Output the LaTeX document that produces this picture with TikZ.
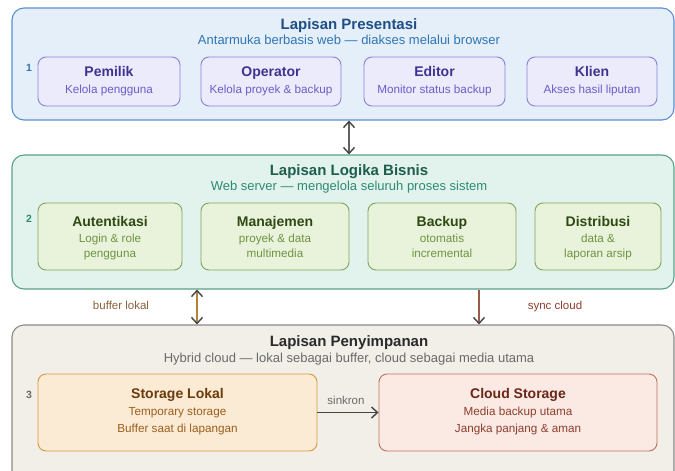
\documentclass[tikz,border=0pt]{standalone}
\usepackage{fontspec}
\setmainfont{Liberation Sans}
\usetikzlibrary{arrows.meta}

% layer palette
\definecolor{pFill}{HTML}{E4EFFA}\definecolor{pLine}{HTML}{5B8FCF}
\definecolor{pHead}{HTML}{1F4E85}\definecolor{pSub}{HTML}{2F75B5}
\definecolor{pbFill}{HTML}{ECEBFB}\definecolor{pbLine}{HTML}{8A80D8}
\definecolor{pbHead}{HTML}{3E3490}\definecolor{pbText}{HTML}{6B5CC8}
\definecolor{lFill}{HTML}{E1F3EC}\definecolor{lLine}{HTML}{5AA08A}
\definecolor{lHead}{HTML}{1E5E4C}\definecolor{lSub}{HTML}{2E8A74}
\definecolor{lbFill}{HTML}{E9F3DC}\definecolor{lbLine}{HTML}{7FA65A}
\definecolor{lbHead}{HTML}{2E4A12}\definecolor{lbText}{HTML}{6E9340}
\definecolor{sFill}{HTML}{F2EFE9}\definecolor{sLine}{HTML}{8A8A8A}
\definecolor{sHead}{HTML}{2A2A2A}\definecolor{sSub}{HTML}{6A6A6A}
\definecolor{slFill}{HTML}{FCEBD4}\definecolor{slLine}{HTML}{D4993F}
\definecolor{slHead}{HTML}{6A3B0C}\definecolor{slText}{HTML}{9A5E1E}
\definecolor{csFill}{HTML}{FBEAE4}\definecolor{csLine}{HTML}{C0705A}
\definecolor{csHead}{HTML}{6A2618}\definecolor{csText}{HTML}{8C3F2C}
\definecolor{tipGray}{HTML}{444444}

\tikzset{
  layerbox/.style={draw, line width=1.1pt, rounded corners=12pt, inner sep=0pt},
  unitbox/.style={draw, line width=0.9pt, rounded corners=8pt, inner sep=0pt},
  txt/.style={inner sep=0pt, anchor=base},
  layertitle/.style={txt, font=\bfseries\fontsize{15}{18}\selectfont},
  layersub/.style={txt, font=\fontsize{13}{15}\selectfont},
  unittitle/.style={txt, font=\bfseries\fontsize{14}{16}\selectfont},
  unittext/.style={txt, font=\fontsize{11.7}{14}\selectfont},
  layernum/.style={txt, font=\bfseries\fontsize{10.5}{12}\selectfont},
  flowlabel/.style={txt, font=\fontsize{11.5}{14}\selectfont},
  both barbs/.style={{Straight Barb[length=6pt,width=11pt,line width=1.4pt,color=tipGray]}-{Straight Barb[length=6pt,width=11pt,line width=1.4pt,color=tipGray]}},
  end barb/.style={-{Straight Barb[length=6pt,width=11pt,line width=1.4pt,color=tipGray]}},
}

\begin{document}
\begin{tikzpicture}[x=1pt,y=-1pt]
\useasboundingbox (0,0) rectangle (675,471);

% ---------- layer 1: presentation ----------
\node[layerbox, fill=pFill, draw=pLine, minimum width=662, minimum height=112] (L1) at (343,64) {};
\node[layertitle, text=pHead] (L1t) at (349,29) {Lapisan Presentasi};
\node[layersub, text=pSub] (L1s) at (349,45) {Antarmuka berbasis web — diakses melalui browser};
\node[layernum, text=pSub] (n1) at (29,71.3) {1};
\foreach \nm/\cx/\w/\ttl/\txt in {
    pem/109/142/Pemilik/Kelola pengguna,
    ope/271/140/Operator/Kelola proyek \& backup,
    edi/434.5/141/Editor/Monitor status backup,
    kli/592/130/Klien/Akses hasil liputan}{
  \node[unitbox, fill=pbFill, draw=pbLine, minimum width=\w, minimum height=49] (\nm) at (\cx,81.5) {};
  \node[unittitle, text=pbHead] (\nm t) at ([yshift=4.8]\nm.center) {\ttl};
  \node[unittext, text=pbText] (\nm s) at ([yshift=-12.2]\nm.center) {\txt};
}

% ---------- layer 2: business logic ----------
\node[layerbox, fill=lFill, draw=lLine, minimum width=662, minimum height=134] (L2) at (343,222) {};
\node[layertitle, text=lHead] (L2t) at (349,175.7) {Lapisan Logika Bisnis};
\node[layersub, text=lSub] (L2s) at (349,190.7) {Web server — mengelola seluruh proses sistem};
\node[layernum, text=lSub] (n2) at (29,222) {2};
\foreach \nm/\cx/\w/\ttl/\ta/\tb in {
    aut/110/144/Autentikasi/Login \& role/pengguna,
    man/275/148/Manajemen/proyek \& data/multimedia,
    bak/442/148/Backup/otomatis/incremental,
    dis/598/126/Distribusi/data \&/laporan arsip}{
  \node[unitbox, fill=lbFill, draw=lbLine, minimum width=\w, minimum height=67] (\nm) at (\cx,236.5) {};
  \node[unittitle, text=lbHead] (\nm t) at ([yshift=10.5]\nm.center) {\ttl};
  \node[unittext, text=lbText] (\nm a) at ([yshift=-6.2]\nm.center) {\ta};
  \node[unittext, text=lbText] (\nm b) at ([yshift=-21]\nm.center) {\tb};
}

% ---------- layer 3: storage ----------
\node[layerbox, fill=sFill, draw=sLine, minimum width=662, minimum height=170] (L3) at (343,410) {};
\node[layertitle, text=sHead] (L3t) at (349,346.7) {Lapisan Penyimpanan};
\node[layersub, text=sSub] (L3s) at (349,362.3) {Hybrid cloud — lokal sebagai buffer, cloud sebagai media utama};
\node[layernum, text=sSub] (n3) at (29,398.7) {3};

\node[unitbox, fill=slFill, draw=slLine, minimum width=279, minimum height=77] (sl) at (177.5,412.5) {};
\node[unittitle, text=slHead] (slt) at ([yshift=14.2]sl.center) {Storage Lokal};
\node[unittext, text=slText] (sla) at ([yshift=-2.5]sl.center) {Temporary storage};
\node[unittext, text=slText] (slb) at ([yshift=-19.8]sl.center) {Buffer saat di lapangan};

\node[unitbox, fill=csFill, draw=csLine, minimum width=278, minimum height=77] (cs) at (518,412.5) {};
\node[unittitle, text=csHead] (cst) at ([yshift=14.2]cs.center) {Cloud Storage};
\node[unittext, text=csText] (csa) at ([yshift=-2.5]cs.center) {Media backup utama};
\node[unittext, text=csText] (csb) at ([yshift=-19.8]cs.center) {Jangka panjang \& aman};

% ---------- connectors ----------
\coordinate (xa) at (349,0);
\coordinate (xb) at (197,0);
\coordinate (xc) at (479,0);

\draw[line width=2pt, draw=gray!75!black, both barbs]
  (L1.south -| xa) -- (L2.north -| xa);

\draw[line width=2pt, draw=slLine!85!black, both barbs]
  (L2.south -| xb) -- (L3.north -| xb);
\node[flowlabel, text=slHead!80] (lblbuf) at (121,309) {buffer lokal};

\draw[line width=1.5pt, draw=csLine!80!black, end barb]
  (L2.south -| xc) -- (L3.north -| xc);
\node[flowlabel, text=csText] (lblsync) at (555,309) {sync cloud};

\draw[line width=1.5pt, draw=tipGray, end barb] (sl.east) -- (cs.west);
\node[flowlabel, text=sSub] (lblsink) at (346,404) {sinkron};
\end{tikzpicture}
\end{document}
